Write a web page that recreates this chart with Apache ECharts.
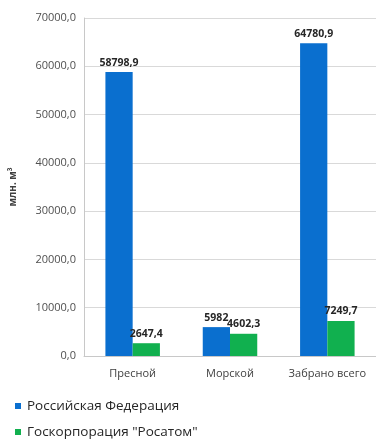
<!DOCTYPE html>
<html><head><meta charset="utf-8">
<script src="https://cdn.jsdelivr.net/npm/echarts@6/dist/echarts.min.js"></script>
<style>html,body{margin:0;padding:0;background:#fff}#c{width:376px;height:441px}</style>
</head><body><div id="c"></div>
<script>
var categories = ['Пресной', 'Морской', 'Забрано всего'];
var seriesNames = ['Российская Федерация', 'Госкорпорация "Росатом"'];
var rfValues = [58798.9, 5982, 64780.9];
var rosatomValues = [2647.4, 4602.3, 7249.7];
var yTicks = [0, 10000, 20000, 30000, 40000, 50000, 60000, 70000];
var yName = 'млн. м³';

function fmtLabel(v) { return String(v).replace('.', ','); }
function fmtTick(v) { return v.toFixed(1).replace('.', ','); }

var chart = echarts.init(document.getElementById('c'), null, {renderer: 'canvas'});
var labelStyle = {show: true, position: 'top', fontFamily: 'Open Sans', fontSize: 10.5, fontWeight: 'bold', color: '#262626', distance: 4,
  formatter: function (p) { return fmtLabel(p.value); }};
var rfData = rfValues.map(function (v, i) {
  var d = {value: v};
  if (i === 1) d.label = {offset: [-3, 0]};
  return d;
});
var greenData = rosatomValues.map(function (v, i) {
  var d = {value: v};
  if (i === 1) d.label = {offset: [5, -7]};
  if (i === 2) d.label = {offset: [8, 0]};
  return d;
});
chart.setOption({
  animation: false,
  grid: {left: 84, right: -3, top: 18, bottom: 85, containLabel: false},
  legend: {
    orient: 'vertical', left: 10, top: 394, height: 60, itemWidth: 6, itemHeight: 6, itemGap: 12, icon: 'rect',
    textStyle: {fontFamily: 'Open Sans', fontSize: 13.5, color: '#262626', padding: [0, 0, 0, 1]},
    data: seriesNames
  },
  xAxis: {
    type: 'category', data: categories,
    axisLine: {lineStyle: {color: '#c8c8c8'}}, axisTick: {show: false},
    axisLabel: {interval: 0, fontFamily: 'Open Sans', fontSize: 11, color: '#404040', margin: 12}
  },
  yAxis: {
    type: 'value', min: yTicks[0], max: yTicks[yTicks.length - 1], interval: yTicks[1] - yTicks[0],
    name: yName, nameLocation: 'middle', nameGap: 66, nameRotate: 90,
    nameTextStyle: {fontFamily: 'Open Sans', fontSize: 10, fontWeight: 'bold', color: '#404040'},
    axisLine: {show: true, lineStyle: {color: '#c8c8c8'}}, axisTick: {show: false},
    splitLine: {lineStyle: {color: '#d9d9d9'}},
    axisLabel: {fontFamily: 'Open Sans', fontSize: 11, color: '#505050', margin: 8, formatter: fmtTick}
  },
  series: [
    {name: seriesNames[0], type: 'bar', data: rfData, barGap: '0%', barCategoryGap: '44%',
     itemStyle: {color: '#0a6fcf'}, label: labelStyle, labelLayout: {hideOverlap: false}},
    {name: seriesNames[1], type: 'bar', data: greenData,
     itemStyle: {color: '#11b04f'}, label: labelStyle, labelLayout: {hideOverlap: false}}
  ]
});
</script></body></html>
